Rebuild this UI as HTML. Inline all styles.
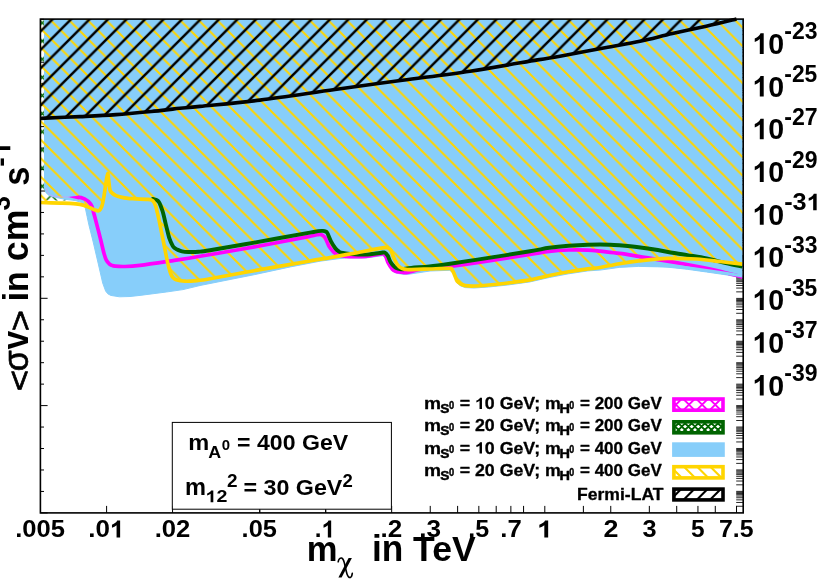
<!DOCTYPE html>
<html><head><meta charset="utf-8"><title>plot</title>
<style>html,body{margin:0;padding:0;background:#fff;}svg{display:block;}text{font-family:"Liberation Sans",sans-serif;font-weight:bold;fill:#000;}.sym{font-family:"Liberation Serif",serif;font-weight:normal;font-style:italic;}.reg{font-family:"Liberation Sans",sans-serif;font-weight:normal;}</style></head><body>
<svg style="will-change:transform" width="830" height="581" viewBox="0 0 830 581">
<rect width="830" height="581" fill="#fff"/>
<defs>
<pattern id="hy" patternUnits="userSpaceOnUse" x="12.0" y="0" width="18.50" height="18.50">
<path d="M-1,-1 L19.50,19.50 M17.50,-1 L38.00,20.50 M-1,17.50 L19.50,38.00" stroke="#FFD500" stroke-width="1.95" stroke-linecap="square"/>
</pattern>
<pattern id="hk" patternUnits="userSpaceOnUse" x="16.35" y="0" width="18.50" height="18.50">
<path d="M-1,1 L1,-1 M-1,19.50 L19.50,-1 M17.50,19.50 L19.50,17.50" stroke="#000" stroke-width="2.5" stroke-linecap="square"/>
</pattern>
<pattern id="hg" patternUnits="userSpaceOnUse" x="33.22" y="13.82" width="18.15" height="18.15">
<path d="M0,0 L18.15,18.15 M18.15,0 L0,18.15" stroke="#006400" stroke-width="1.4"/>
</pattern>
<clipPath id="cp"><rect x="40.4" y="19.1" width="702.2" height="493.8"/></clipPath>
</defs>
<path d="M40.4,512.90 h7.2 M40.4,491.44 h3.6 M40.4,469.98 h3.6 M40.4,448.52 h3.6 M40.4,427.06 h3.6 M40.4,405.60 h7.2 M40.4,384.14 h3.6 M40.4,362.68 h3.6 M40.4,341.22 h3.6 M40.4,319.76 h3.6 M40.4,298.30 h7.2 M40.4,276.84 h3.6 M40.4,255.38 h3.6 M40.4,233.92 h3.6 M40.4,212.46 h3.6 M40.4,191.00 h7.2 M40.4,169.54 h3.6 M40.4,148.08 h3.6 M40.4,126.62 h3.6 M40.4,105.16 h3.6 M40.4,83.70 h7.2 M40.4,62.24 h3.6 M40.4,40.78 h3.6 M40.4,19.32 h3.6" stroke="#000" stroke-width="1" fill="none"/>
<path d="M736.2,19.68 h7.0 M736.2,20.68 h7.0 M736.2,21.78 h7.0 M736.2,22.98 h7.0 M736.2,24.38 h7.0 M736.2,26.08 h7.0 M736.2,28.18 h7.0 M736.2,30.78 h7.0 M736.2,34.58 h7.0 M736.2,41.12 h7.0 M736.2,42.12 h7.0 M736.2,43.22 h7.0 M736.2,44.42 h7.0 M736.2,45.82 h7.0 M736.2,47.52 h7.0 M736.2,49.62 h7.0 M736.2,52.22 h7.0 M736.2,56.02 h7.0 M736.2,62.56 h7.0 M736.2,63.56 h7.0 M736.2,64.66 h7.0 M736.2,65.86 h7.0 M736.2,67.26 h7.0 M736.2,68.96 h7.0 M736.2,71.06 h7.0 M736.2,73.66 h7.0 M736.2,77.46 h7.0 M736.2,84.00 h7.0 M736.2,85.00 h7.0 M736.2,86.10 h7.0 M736.2,87.30 h7.0 M736.2,88.70 h7.0 M736.2,90.40 h7.0 M736.2,92.50 h7.0 M736.2,95.10 h7.0 M736.2,98.90 h7.0 M736.2,105.44 h7.0 M736.2,106.44 h7.0 M736.2,107.54 h7.0 M736.2,108.74 h7.0 M736.2,110.14 h7.0 M736.2,111.84 h7.0 M736.2,113.94 h7.0 M736.2,116.54 h7.0 M736.2,120.34 h7.0 M736.2,126.88 h7.0 M736.2,127.88 h7.0 M736.2,128.98 h7.0 M736.2,130.18 h7.0 M736.2,131.58 h7.0 M736.2,133.28 h7.0 M736.2,135.38 h7.0 M736.2,137.98 h7.0 M736.2,141.78 h7.0 M736.2,148.32 h7.0 M736.2,149.32 h7.0 M736.2,150.42 h7.0 M736.2,151.62 h7.0 M736.2,153.02 h7.0 M736.2,154.72 h7.0 M736.2,156.82 h7.0 M736.2,159.42 h7.0 M736.2,163.22 h7.0 M736.2,169.76 h7.0 M736.2,170.76 h7.0 M736.2,171.86 h7.0 M736.2,173.06 h7.0 M736.2,174.46 h7.0 M736.2,176.16 h7.0 M736.2,178.26 h7.0 M736.2,180.86 h7.0 M736.2,184.66 h7.0 M736.2,191.20 h7.0 M736.2,192.20 h7.0 M736.2,193.30 h7.0 M736.2,194.50 h7.0 M736.2,195.90 h7.0 M736.2,197.60 h7.0 M736.2,199.70 h7.0 M736.2,202.30 h7.0 M736.2,206.10 h7.0 M736.2,212.64 h7.0 M736.2,213.64 h7.0 M736.2,214.74 h7.0 M736.2,215.94 h7.0 M736.2,217.34 h7.0 M736.2,219.04 h7.0 M736.2,221.14 h7.0 M736.2,223.74 h7.0 M736.2,227.54 h7.0 M736.2,234.08 h7.0 M736.2,235.08 h7.0 M736.2,236.18 h7.0 M736.2,237.38 h7.0 M736.2,238.78 h7.0 M736.2,240.48 h7.0 M736.2,242.58 h7.0 M736.2,245.18 h7.0 M736.2,248.98 h7.0 M736.2,255.52 h7.0 M736.2,256.52 h7.0 M736.2,257.62 h7.0 M736.2,258.82 h7.0 M736.2,260.22 h7.0 M736.2,261.92 h7.0 M736.2,264.02 h7.0 M736.2,266.62 h7.0 M736.2,270.42 h7.0 M736.2,276.96 h7.0 M736.2,277.96 h7.0 M736.2,279.06 h7.0 M736.2,280.26 h7.0 M736.2,281.66 h7.0 M736.2,283.36 h7.0 M736.2,285.46 h7.0 M736.2,288.06 h7.0 M736.2,291.86 h7.0 M736.2,298.40 h7.0 M736.2,299.40 h7.0 M736.2,300.50 h7.0 M736.2,301.70 h7.0 M736.2,303.10 h7.0 M736.2,304.80 h7.0 M736.2,306.90 h7.0 M736.2,309.50 h7.0 M736.2,313.30 h7.0 M736.2,319.84 h7.0 M736.2,320.84 h7.0 M736.2,321.94 h7.0 M736.2,323.14 h7.0 M736.2,324.54 h7.0 M736.2,326.24 h7.0 M736.2,328.34 h7.0 M736.2,330.94 h7.0 M736.2,334.74 h7.0 M736.2,341.28 h7.0 M736.2,342.28 h7.0 M736.2,343.38 h7.0 M736.2,344.58 h7.0 M736.2,345.98 h7.0 M736.2,347.68 h7.0 M736.2,349.78 h7.0 M736.2,352.38 h7.0 M736.2,356.18 h7.0 M736.2,362.72 h7.0 M736.2,363.72 h7.0 M736.2,364.82 h7.0 M736.2,366.02 h7.0 M736.2,367.42 h7.0 M736.2,369.12 h7.0 M736.2,371.22 h7.0 M736.2,373.82 h7.0 M736.2,377.62 h7.0 M736.2,384.16 h7.0 M736.2,385.16 h7.0 M736.2,386.26 h7.0 M736.2,387.46 h7.0 M736.2,388.86 h7.0 M736.2,390.56 h7.0 M736.2,392.66 h7.0 M736.2,395.26 h7.0 M736.2,399.06 h7.0 M736.2,405.60 h7.0 M736.2,406.60 h7.0 M736.2,407.70 h7.0 M736.2,408.90 h7.0 M736.2,410.30 h7.0 M736.2,412.00 h7.0 M736.2,414.10 h7.0 M736.2,416.70 h7.0 M736.2,420.50 h7.0 M736.2,427.04 h7.0 M736.2,428.04 h7.0 M736.2,429.14 h7.0 M736.2,430.34 h7.0 M736.2,431.74 h7.0 M736.2,433.44 h7.0 M736.2,435.54 h7.0 M736.2,438.14 h7.0 M736.2,441.94 h7.0 M736.2,448.48 h7.0 M736.2,449.48 h7.0 M736.2,450.58 h7.0 M736.2,451.78 h7.0 M736.2,453.18 h7.0 M736.2,454.88 h7.0 M736.2,456.98 h7.0 M736.2,459.58 h7.0 M736.2,463.38 h7.0 M736.2,469.92 h7.0 M736.2,470.92 h7.0 M736.2,472.02 h7.0 M736.2,473.22 h7.0 M736.2,474.62 h7.0 M736.2,476.32 h7.0 M736.2,478.42 h7.0 M736.2,481.02 h7.0 M736.2,484.82 h7.0 M736.2,491.36 h7.0 M736.2,492.36 h7.0 M736.2,493.46 h7.0 M736.2,494.66 h7.0 M736.2,496.06 h7.0 M736.2,497.76 h7.0 M736.2,499.86 h7.0 M736.2,502.46 h7.0 M736.2,506.26 h7.0" stroke="#000" stroke-width="0.85" fill="none"/>
<path d="M106.60,512.9 v-7 M172.56,512.9 v-7 M259.74,512.9 v-7 M325.70,512.9 v-7 M391.66,512.9 v-7 M430.24,512.9 v-7 M457.61,512.9 v-7 M478.84,512.9 v-7 M496.19,512.9 v-7 M510.86,512.9 v-7 M523.57,512.9 v-7 M544.80,512.9 v-7 M583.38,512.9 v-7 M610.76,512.9 v-7 M649.34,512.9 v-7 M676.71,512.9 v-7 M697.94,512.9 v-7 M715.29,512.9 v-7 M736.53,512.9 v-7" stroke="#000" stroke-width="1" fill="none"/>
<g clip-path="url(#cp)">
<path d="M40.4,19.1 L40.4,200.6 L86.0,200.6 L86.0,19.1 Z" fill="url(#hg)"/>
<path d="M44.5,19.1 L44.5,188.0 L45.8,192.5 L49.0,195.5 L56.0,197.5 L65.0,199.3 L75.0,200.5 L82.0,202.5 L85.3,208.0 L87.1,216.5 L88.9,224.9 L93.2,242.0 L98.3,263.9 L102.7,283.0 L105.6,291.0 L107.8,293.8 L110.7,295.4 L119.5,296.8 L130.0,296.5 L140.0,295.4 L166.4,292.0 L183.0,289.6 L200.0,285.5 L254.2,274.7 L290.4,266.9 L320.0,261.2 L340.0,258.5 L346.4,258.0 L365.7,258.0 L382.5,255.7 L385.5,257.8 L387.8,263.5 L392.4,270.8 L395.0,272.6 L398.7,273.6 L403.0,274.2 L409.0,274.2 L430.0,271.0 L449.3,270.3 L451.8,271.6 L453.8,275.0 L456.6,282.1 L458.5,284.4 L460.6,285.9 L465.4,287.6 L474.1,288.0 L488.6,287.0 L507.8,285.0 L530.0,281.9 L549.3,277.5 L568.6,273.8 L587.8,270.9 L600.0,270.1 L619.3,267.4 L638.6,266.4 L657.8,266.8 L668.0,267.2 L687.3,269.3 L706.6,272.0 L725.8,274.8 L742.2,277.6 L743.2,277.7 L743.2,19.1 Z" fill="#87CEFA" stroke="#87CEFA" stroke-width="1" stroke-linejoin="round"/>
<path d="M40.4,19.1 L40.4,201.2 L47.0,201.2 L50.0,197.7 L80.0,197.7 L84.0,200.5 L85.0,205.7 L90.1,207.8 L95.0,210.0 L98.6,210.8 L100.5,209.0 L102.2,205.0 L104.0,196.0 L105.8,184.0 L107.7,173.4 L109.0,183.0 L110.0,190.0 L112.0,193.0 L116.0,195.6 L122.0,197.4 L128.0,198.3 L136.0,198.8 L146.3,199.3 L150.3,199.6 L153.0,201.0 L155.5,205.5 L157.2,212.0 L158.9,219.3 L162.4,236.5 L165.8,253.7 L168.4,265.7 L171.0,274.3 L173.0,277.5 L176.1,279.7 L184.8,281.2 L196.8,280.6 L210.0,278.7 L254.2,270.7 L308.4,261.2 L330.0,257.6 L357.1,252.7 L384.2,247.7 L388.0,248.0 L390.5,249.8 L392.0,253.0 L393.3,256.7 L396.9,263.9 L399.5,266.8 L402.3,268.4 L406.0,269.4 L411.3,269.7 L429.4,269.0 L449.3,268.4 L451.8,269.6 L453.8,273.0 L456.6,280.1 L458.5,282.4 L460.6,283.9 L465.4,285.6 L474.1,286.0 L488.6,285.0 L507.8,283.0 L530.0,279.9 L549.3,275.5 L568.6,271.8 L587.8,268.9 L600.0,267.5 L619.3,263.7 L638.6,260.9 L667.5,258.4 L696.4,259.0 L720.0,261.5 L742.6,264.2 L743.2,264.2 L743.2,19.1 Z" fill="url(#hy)"/>
<path d="M40.4,19.1 L40.5,118.4 L80.0,116.6 L116.0,114.6 L160.0,110.6 L180.0,108.3 L200.0,106.4 L260.0,100.1 L335.0,89.5 L402.4,80.2 L470.0,71.2 L537.5,59.9 L560.0,56.2 L605.0,47.8 L640.0,41.3 L672.4,33.6 L706.2,26.2 L736.5,19.0 L736.5,19.1 Z" fill="url(#hk)"/>
<path d="M78.0,197.3 C78.5,197.4 79.9,197.3 81.1,197.6 C82.3,197.9 83.8,198.6 85.0,199.2 C86.2,199.8 87.1,200.2 88.3,201.4 C89.5,202.6 91.0,204.4 91.9,206.3 C92.8,208.2 93.1,210.7 93.7,212.9 C94.3,215.1 94.4,215.2 95.5,219.5 C96.6,223.8 99.1,233.3 100.5,239.0 C101.9,244.7 103.1,250.2 104.1,253.7 C105.1,257.2 105.4,258.5 106.3,260.2 C107.2,261.9 108.3,263.0 109.3,263.9 C110.2,264.8 111.0,265.0 112.0,265.4 C113.0,265.8 113.1,265.9 115.1,266.1 C117.1,266.3 119.8,266.6 123.9,266.5 C128.1,266.4 131.6,266.4 140.0,265.4 C148.4,264.4 164.4,261.9 174.4,260.4 C184.4,258.9 186.7,258.6 200.0,256.3 C213.3,254.1 236.1,250.2 254.2,246.9 C272.3,243.6 297.8,238.7 308.4,236.6 C319.0,234.5 315.9,234.9 318.0,234.6 C320.1,234.3 320.2,234.4 321.1,234.6 C322.0,234.8 322.8,235.3 323.5,236.0 C324.2,236.7 324.7,236.8 325.6,238.6 C326.6,240.4 327.9,244.4 329.2,246.7 C330.5,248.9 332.4,250.8 333.7,252.1 C335.0,253.3 335.8,253.6 337.0,254.2 C338.2,254.8 338.8,255.1 341.0,255.5 C343.2,255.9 345.9,256.5 350.0,256.6 C354.1,256.7 360.3,256.8 365.7,256.3 C371.1,255.9 379.2,254.0 382.5,253.9 C385.8,253.8 384.6,254.6 385.5,256.0 C386.4,257.4 386.7,259.9 387.8,262.1 C388.9,264.3 391.2,267.8 392.4,269.3 C393.6,270.8 393.9,270.6 395.0,271.0 C396.1,271.4 397.4,271.8 398.7,272.0 C400.0,272.2 401.5,272.4 403.0,272.5 C404.5,272.6 405.2,272.9 407.7,272.5 C410.2,272.1 414.3,270.6 418.0,269.8 C421.7,269.1 424.7,268.6 430.0,268.0 C435.3,267.4 440.2,267.6 450.0,266.4 C459.8,265.2 475.3,263.0 488.6,261.0 C501.9,259.0 519.9,256.0 530.0,254.4 C540.1,252.8 542.9,252.0 549.3,251.3 C555.7,250.6 562.2,250.2 568.6,250.0 C575.0,249.8 582.6,249.9 587.8,250.1 C593.0,250.3 594.8,250.6 600.0,251.2 C605.2,251.8 612.9,252.6 619.3,253.4 C625.7,254.2 632.2,255.3 638.6,256.3 C645.0,257.3 650.9,258.5 657.8,259.6 C664.7,260.8 670.4,261.4 680.0,263.2 C689.6,265.0 705.3,267.9 715.7,270.2 C726.1,272.5 738.1,276.0 742.6,277.2" fill="none" stroke="#FF00FF" stroke-width="3.7" stroke-linejoin="round"/>
<path d="M68,196.9 L79,195.5 L78.6,199.4 Z" fill="#FF00FF"/>
<path d="M46.3,188 C47,193.5 50,196 56,196.6 L70,197.1" fill="none" stroke="#C9A0F8" stroke-width="0.8"/>
<path d="M640.0,264.9 L657.8,265.3 L668.0,265.7 L687.3,267.8 L706.6,270.5 L725.8,273.3 L742.6,276.1" fill="none" stroke="#87CEFA" stroke-width="3" />
<path d="M151.5,198.9 C151.7,198.9 152.2,198.8 152.9,198.9 C153.7,199.1 155.0,199.3 156.0,199.8 C157.0,200.3 157.8,200.2 158.9,202.0 C160.0,203.8 161.2,207.0 162.4,210.7 C163.6,214.4 164.7,219.8 165.8,224.4 C167.0,229.0 168.2,234.6 169.3,238.2 C170.5,241.8 171.8,244.2 172.7,245.9 C173.6,247.6 174.1,247.6 175.0,248.3 C175.9,249.0 176.7,249.4 177.9,249.9 C179.1,250.4 180.3,251.0 182.0,251.3 C183.7,251.7 185.4,251.9 188.2,252.0 C190.9,252.1 194.9,252.1 198.5,251.8 C202.1,251.5 200.7,251.8 210.0,250.3 C219.3,248.8 237.8,245.5 254.2,242.6 C270.6,239.7 297.8,234.8 308.4,232.9 C319.0,231.0 315.6,231.4 318.0,231.1 C320.4,230.8 321.6,230.8 322.9,230.9 C324.1,231.0 324.8,231.1 325.5,231.5 C326.2,231.9 326.5,231.5 327.4,233.1 C328.3,234.7 329.6,238.7 331.0,241.3 C332.4,243.9 334.2,246.8 335.5,248.5 C336.8,250.2 337.8,250.8 339.0,251.6 C340.2,252.3 341.0,252.6 342.8,253.0 C344.6,253.4 346.3,253.6 350.0,253.9 C353.7,254.2 360.0,254.8 365.0,254.6 C370.0,254.4 376.8,253.4 380.0,253.0 C383.2,252.6 383.2,252.3 384.2,252.4 C385.2,252.5 385.4,252.9 386.0,253.5 C386.6,254.1 387.1,254.4 387.8,255.8 C388.6,257.2 389.4,260.3 390.5,262.1 C391.6,263.9 392.9,265.5 394.2,266.6 C395.4,267.7 396.7,268.2 398.0,268.6 C399.3,269.1 399.8,269.4 402.0,269.3 C404.2,269.2 406.7,268.4 411.3,267.9 C415.9,267.4 422.9,267.1 429.4,266.4 C435.8,265.7 440.1,265.1 450.0,263.7 C459.9,262.3 475.3,260.0 488.6,257.9 C501.9,255.8 519.9,253.0 530.0,251.3 C540.1,249.6 542.9,248.7 549.3,247.8 C555.7,246.9 562.2,246.3 568.6,245.8 C575.0,245.3 582.6,244.9 587.8,244.7 C593.0,244.5 596.3,244.5 600.0,244.5 C603.7,244.5 606.8,244.6 610.0,244.7 C613.2,244.8 614.5,244.9 619.3,245.3 C624.1,245.7 632.2,246.4 638.6,247.2 C645.0,248.0 652.9,249.2 657.8,250.0 C662.7,250.8 663.1,251.2 668.0,252.0 C672.9,252.8 680.9,254.0 687.3,255.1 C693.7,256.2 700.2,257.1 706.6,258.5 C713.0,259.9 719.8,261.8 725.8,263.2 C731.8,264.6 739.8,266.1 742.6,266.7" fill="none" stroke="#006400" stroke-width="3.9" stroke-linejoin="round"/>
<path d="M40.5,202.5 C43.8,202.6 55.1,202.9 60.0,203.1 C64.9,203.2 66.7,203.2 70.0,203.4 C73.3,203.6 77.4,203.9 79.9,204.3 C82.4,204.7 83.3,205.1 85.0,205.7 C86.7,206.3 88.4,207.1 90.1,207.8 C91.8,208.5 93.6,209.5 95.0,210.0 C96.4,210.5 97.7,211.0 98.6,210.8 C99.5,210.6 99.9,210.0 100.5,209.0 C101.1,208.0 101.6,207.2 102.2,205.0 C102.8,202.8 103.4,199.5 104.0,196.0 C104.6,192.5 105.2,187.8 105.8,184.0 C106.4,180.2 107.2,173.6 107.7,173.4 C108.2,173.2 108.6,180.2 109.0,183.0 C109.4,185.8 109.5,188.3 110.0,190.0 C110.5,191.7 111.0,192.1 112.0,193.0 C113.0,193.9 114.3,194.9 116.0,195.6 C117.7,196.3 120.0,196.9 122.0,197.4 C124.0,197.9 125.7,198.1 128.0,198.3 C130.3,198.5 132.9,198.6 136.0,198.8 C139.1,199.0 143.9,199.2 146.3,199.3 C148.7,199.4 149.2,199.3 150.3,199.6 C151.4,199.9 152.1,200.0 153.0,201.0 C153.9,202.0 154.8,203.7 155.5,205.5 C156.2,207.3 156.6,209.7 157.2,212.0 C157.8,214.3 158.0,215.2 158.9,219.3 C159.8,223.4 161.2,230.8 162.4,236.5 C163.6,242.2 164.8,248.8 165.8,253.7 C166.8,258.6 167.5,262.3 168.4,265.7 C169.3,269.1 170.2,272.3 171.0,274.3 C171.8,276.3 172.2,276.6 173.0,277.5 C173.8,278.4 174.1,279.1 176.1,279.7 C178.1,280.3 181.4,281.0 184.8,281.2 C188.2,281.4 192.6,281.0 196.8,280.6 C201.0,280.2 200.4,280.4 210.0,278.7 C219.6,277.0 237.8,273.6 254.2,270.7 C270.6,267.8 295.8,263.4 308.4,261.2 C321.0,259.0 321.9,259.0 330.0,257.6 C338.1,256.2 348.1,254.3 357.1,252.7 C366.1,251.0 379.1,248.5 384.2,247.7 C389.3,246.9 386.9,247.7 388.0,248.0 C389.1,248.3 389.8,249.0 390.5,249.8 C391.2,250.6 391.5,251.8 392.0,253.0 C392.5,254.2 392.5,254.9 393.3,256.7 C394.1,258.5 395.9,262.2 396.9,263.9 C397.9,265.6 398.6,266.1 399.5,266.8 C400.4,267.6 401.2,268.0 402.3,268.4 C403.4,268.8 404.5,269.2 406.0,269.4 C407.5,269.6 407.4,269.8 411.3,269.7 C415.2,269.6 423.1,269.2 429.4,269.0 C435.7,268.8 445.6,268.3 449.3,268.4 C453.0,268.5 451.1,268.8 451.8,269.6 C452.6,270.4 453.0,271.2 453.8,273.0 C454.6,274.8 455.8,278.5 456.6,280.1 C457.4,281.7 457.8,281.8 458.5,282.4 C459.2,283.0 459.5,283.4 460.6,283.9 C461.8,284.4 463.1,285.2 465.4,285.6 C467.6,286.0 470.2,286.1 474.1,286.0 C478.0,285.9 483.0,285.5 488.6,285.0 C494.2,284.5 500.9,283.9 507.8,283.0 C514.7,282.1 523.1,281.1 530.0,279.9 C536.9,278.6 542.9,276.9 549.3,275.5 C555.7,274.1 562.2,272.9 568.6,271.8 C575.0,270.7 582.6,269.6 587.8,268.9 C593.0,268.2 594.8,268.4 600.0,267.5 C605.2,266.6 612.9,264.8 619.3,263.7 C625.7,262.6 630.6,261.8 638.6,260.9 C646.6,260.0 657.9,258.7 667.5,258.4 C677.1,258.1 687.6,258.5 696.4,259.0 C705.1,259.5 712.3,260.6 720.0,261.5 C727.7,262.4 738.8,263.8 742.6,264.2" fill="none" stroke="#FFD500" stroke-width="3.7" stroke-linejoin="round"/>
</g>
<path d="M40.5,118.4 C47.1,118.1 67.4,117.2 80.0,116.6 C92.6,116.0 102.7,115.6 116.0,114.6 C129.3,113.6 149.3,111.6 160.0,110.6 C170.7,109.5 173.3,109.0 180.0,108.3 C186.7,107.6 186.7,107.8 200.0,106.4 C213.3,105.0 237.5,102.9 260.0,100.1 C282.5,97.3 311.3,92.8 335.0,89.5 C358.7,86.2 379.9,83.2 402.4,80.2 C424.9,77.2 447.5,74.6 470.0,71.2 C492.5,67.8 522.5,62.4 537.5,59.9 C552.5,57.4 548.8,58.2 560.0,56.2 C571.2,54.2 591.7,50.3 605.0,47.8 C618.3,45.3 628.8,43.7 640.0,41.3 C651.2,38.9 661.4,36.1 672.4,33.6 C683.4,31.1 695.5,28.6 706.2,26.2 C716.9,23.8 731.5,20.2 736.5,19.0" fill="none" stroke="#000" stroke-width="3.6" stroke-linejoin="round"/>
<rect x="40.4" y="19.1" width="702.8" height="493.8" fill="none" stroke="#000" stroke-width="1.6"/>
<rect x="172.3" y="422.4" width="219.1" height="86.8" fill="#fff" stroke="#000" stroke-width="1"/>
<path d="M259.74,512.9 v-3.2 M325.70,512.9 v-3.2" stroke="#000" stroke-width="1"/>
<text transform="translate(188.27,450.10) scale(1.0316,1)" font-size="22.88" xml:space="preserve">m</text>
<text transform="translate(208.35,457.70) scale(1.0347,1)" font-size="17.31" xml:space="preserve">A</text>
<text transform="translate(221.70,449.56) scale(1.0791,1)" font-size="13.85" xml:space="preserve">0</text>
<text transform="translate(237.12,449.90) scale(1.0410,1)" font-size="22.20" xml:space="preserve">= 400 GeV</text>
<text transform="translate(184.97,495.30) scale(1.0233,1)" font-size="23.07" xml:space="preserve">m</text>
<path transform="translate(205.58,502.36) scale(0.00959,-0.00844)" d="M806,0 L525,0 L525,1014 Q371,876 162,810 L162,1054 Q272,1088 401,1185 Q530,1281 578,1409 L806,1409 Z"/>
<text transform="translate(205.58,502.36) scale(1.1366,1)" font-size="17.29" xml:space="preserve"> 2</text>
<text transform="translate(227.04,487.00) scale(1.0751,1)" font-size="17.63" xml:space="preserve">2</text>
<text transform="translate(243.41,495.10) scale(1.0483,1)" font-size="22.20" xml:space="preserve">= 30 GeV</text>
<text transform="translate(342.45,487.00) scale(1.0514,1)" font-size="17.63" xml:space="preserve">2</text>
<text transform="translate(424.06,409.00) scale(1.1310,1)" font-size="16.93" stroke="#000" stroke-width="0.30" stroke-linejoin="round" xml:space="preserve">m</text>
<path transform="translate(474.97,408.90) scale(0.00868,-0.00796)" d="M806,0 L525,0 L525,1014 Q371,876 162,810 L162,1054 Q272,1088 401,1185 Q530,1281 578,1409 L806,1409 Z"/>
<text transform="translate(459.64,408.90) scale(1.0910,1)" font-size="16.30" stroke="#000" stroke-width="0.30" stroke-linejoin="round" xml:space="preserve">=  0 GeV; m</text>
<text transform="translate(579.98,408.90) scale(1.0440,1)" font-size="16.30" stroke="#000" stroke-width="0.30" stroke-linejoin="round" xml:space="preserve">= 200 GeV</text>
<text transform="translate(440.19,413.17) scale(1.0910,1)" font-size="12.58" stroke="#000" stroke-width="0.45" stroke-linejoin="round" xml:space="preserve">S</text>
<text transform="translate(448.93,408.80) scale(0.9231,1)" font-size="10.04" stroke="#000" stroke-width="0.45" stroke-linejoin="round" xml:space="preserve">0</text>
<text transform="translate(559.62,413.10) scale(1.1566,1)" font-size="12.51" stroke="#000" stroke-width="0.45" stroke-linejoin="round" xml:space="preserve">H</text>
<text transform="translate(569.15,408.80) scale(0.8811,1)" font-size="10.04" stroke="#000" stroke-width="0.45" stroke-linejoin="round" xml:space="preserve">0</text>
<text transform="translate(424.06,431.30) scale(1.1310,1)" font-size="16.93" stroke="#000" stroke-width="0.30" stroke-linejoin="round" xml:space="preserve">m</text>
<text transform="translate(459.64,431.20) scale(1.0910,1)" font-size="16.30" stroke="#000" stroke-width="0.30" stroke-linejoin="round" xml:space="preserve">= 20 GeV; m</text>
<text transform="translate(579.98,431.20) scale(1.0440,1)" font-size="16.30" stroke="#000" stroke-width="0.30" stroke-linejoin="round" xml:space="preserve">= 200 GeV</text>
<text transform="translate(440.19,435.47) scale(1.0910,1)" font-size="12.58" stroke="#000" stroke-width="0.45" stroke-linejoin="round" xml:space="preserve">S</text>
<text transform="translate(448.93,431.10) scale(0.9231,1)" font-size="10.04" stroke="#000" stroke-width="0.45" stroke-linejoin="round" xml:space="preserve">0</text>
<text transform="translate(559.62,435.40) scale(1.1566,1)" font-size="12.51" stroke="#000" stroke-width="0.45" stroke-linejoin="round" xml:space="preserve">H</text>
<text transform="translate(569.15,431.10) scale(0.8811,1)" font-size="10.04" stroke="#000" stroke-width="0.45" stroke-linejoin="round" xml:space="preserve">0</text>
<text transform="translate(424.06,453.60) scale(1.1310,1)" font-size="16.93" stroke="#000" stroke-width="0.30" stroke-linejoin="round" xml:space="preserve">m</text>
<path transform="translate(474.97,453.50) scale(0.00868,-0.00796)" d="M806,0 L525,0 L525,1014 Q371,876 162,810 L162,1054 Q272,1088 401,1185 Q530,1281 578,1409 L806,1409 Z"/>
<text transform="translate(459.64,453.50) scale(1.0910,1)" font-size="16.30" stroke="#000" stroke-width="0.30" stroke-linejoin="round" xml:space="preserve">=  0 GeV; m</text>
<text transform="translate(579.98,453.50) scale(1.0440,1)" font-size="16.30" stroke="#000" stroke-width="0.30" stroke-linejoin="round" xml:space="preserve">= 400 GeV</text>
<text transform="translate(440.19,457.77) scale(1.0910,1)" font-size="12.58" stroke="#000" stroke-width="0.45" stroke-linejoin="round" xml:space="preserve">S</text>
<text transform="translate(448.93,453.40) scale(0.9231,1)" font-size="10.04" stroke="#000" stroke-width="0.45" stroke-linejoin="round" xml:space="preserve">0</text>
<text transform="translate(559.62,457.70) scale(1.1566,1)" font-size="12.51" stroke="#000" stroke-width="0.45" stroke-linejoin="round" xml:space="preserve">H</text>
<text transform="translate(569.15,453.40) scale(0.8811,1)" font-size="10.04" stroke="#000" stroke-width="0.45" stroke-linejoin="round" xml:space="preserve">0</text>
<text transform="translate(424.06,475.90) scale(1.1310,1)" font-size="16.93" stroke="#000" stroke-width="0.30" stroke-linejoin="round" xml:space="preserve">m</text>
<text transform="translate(459.64,475.80) scale(1.0910,1)" font-size="16.30" stroke="#000" stroke-width="0.30" stroke-linejoin="round" xml:space="preserve">= 20 GeV; m</text>
<text transform="translate(579.98,475.80) scale(1.0440,1)" font-size="16.30" stroke="#000" stroke-width="0.30" stroke-linejoin="round" xml:space="preserve">= 400 GeV</text>
<text transform="translate(440.19,480.07) scale(1.0910,1)" font-size="12.58" stroke="#000" stroke-width="0.45" stroke-linejoin="round" xml:space="preserve">S</text>
<text transform="translate(448.93,475.70) scale(0.9231,1)" font-size="10.04" stroke="#000" stroke-width="0.45" stroke-linejoin="round" xml:space="preserve">0</text>
<text transform="translate(559.62,480.00) scale(1.1566,1)" font-size="12.51" stroke="#000" stroke-width="0.45" stroke-linejoin="round" xml:space="preserve">H</text>
<text transform="translate(569.15,475.70) scale(0.8811,1)" font-size="10.04" stroke="#000" stroke-width="0.45" stroke-linejoin="round" xml:space="preserve">0</text>
<text transform="translate(577.01,499.50) scale(1.0985,1)" font-size="16.00" stroke="#000" stroke-width="0.30" stroke-linejoin="round" xml:space="preserve">Fermi-LAT</text>
<clipPath id="cm"><rect x="673.1" y="398.2" width="50.7" height="12.8"/></clipPath>
<g clip-path="url(#cm)">
<path d="M640.35,414.0 L659.15,395.2 M640.25,395.2 L659.05,414.0 M653.45,414.0 L672.25,395.2 M653.35,395.2 L672.15,414.0 M666.55,414.0 L685.35,395.2 M666.45,395.2 L685.25,414.0 M679.65,414.0 L698.45,395.2 M679.55,395.2 L698.35,414.0 M692.75,414.0 L711.55,395.2 M692.65,395.2 L711.45,414.0 M705.85,414.0 L724.65,395.2 M705.75,395.2 L724.55,414.0 M718.95,414.0 L737.75,395.2 M718.85,395.2 L737.65,414.0 M732.05,414.0 L750.85,395.2 M731.95,395.2 L750.75,414.0 M745.15,414.0 L763.95,395.2 M745.05,395.2 L763.85,414.0 M758.25,414.0 L777.05,395.2 M758.15,395.2 L776.95,414.0 M771.35,414.0 L790.15,395.2 M771.25,395.2 L790.05,414.0" stroke="#FF00FF" stroke-width="1.9" fill="none"/>
</g>
<rect x="673.90" y="399.00" width="49.10" height="11.20" fill="none" stroke="#FF00FF" stroke-width="3.6"/>
<clipPath id="cg"><rect x="673.1" y="421.0" width="50.7" height="12.6"/></clipPath>
<g clip-path="url(#cg)">
<path d="M638.90,436.6 L657.50,418.0 M640.30,418.0 L658.90,436.6 M645.48,436.6 L664.08,418.0 M646.88,418.0 L665.48,436.6 M652.06,436.6 L670.66,418.0 M653.46,418.0 L672.06,436.6 M658.64,436.6 L677.24,418.0 M660.04,418.0 L678.64,436.6 M665.22,436.6 L683.82,418.0 M666.62,418.0 L685.22,436.6 M671.80,436.6 L690.40,418.0 M673.20,418.0 L691.80,436.6 M678.38,436.6 L696.98,418.0 M679.78,418.0 L698.38,436.6 M684.96,436.6 L703.56,418.0 M686.36,418.0 L704.96,436.6 M691.54,436.6 L710.14,418.0 M692.94,418.0 L711.54,436.6 M698.12,436.6 L716.72,418.0 M699.52,418.0 L718.12,436.6 M704.70,436.6 L723.30,418.0 M706.10,418.0 L724.70,436.6 M711.28,436.6 L729.88,418.0 M712.68,418.0 L731.28,436.6 M717.86,436.6 L736.46,418.0 M719.26,418.0 L737.86,436.6 M724.44,436.6 L743.04,418.0 M725.84,418.0 L744.44,436.6 M731.02,436.6 L749.62,418.0 M732.42,418.0 L751.02,436.6 M737.60,436.6 L756.20,418.0 M739.00,418.0 L757.60,436.6 M744.18,436.6 L762.78,418.0 M745.58,418.0 L764.18,436.6 M750.76,436.6 L769.36,418.0 M752.16,418.0 L770.76,436.6 M757.34,436.6 L775.94,418.0 M758.74,418.0 L777.34,436.6" stroke="#006400" stroke-width="1.9" fill="none"/>
</g>
<rect x="673.90" y="421.80" width="49.10" height="11.00" fill="none" stroke="#006400" stroke-width="3.6"/>
<rect x="672.1" y="442.3" width="52.7" height="14.6" fill="#87CEFA"/>
<clipPath id="cy"><rect x="673.1" y="465.9" width="50.7" height="12.8"/></clipPath>
<g clip-path="url(#cy)">
<path d="M640.55,462.9 L659.35,481.7 M653.75,462.9 L672.55,481.7 M666.95,462.9 L685.75,481.7 M680.15,462.9 L698.95,481.7 M693.35,462.9 L712.15,481.7 M706.55,462.9 L725.35,481.7 M719.75,462.9 L738.55,481.7 M732.95,462.9 L751.75,481.7 M746.15,462.9 L764.95,481.7" stroke="#FFD500" stroke-width="2.1" fill="none"/>
</g>
<rect x="673.90" y="466.70" width="49.10" height="11.20" fill="none" stroke="#FFD500" stroke-width="3.6"/>
<clipPath id="ck"><rect x="673.1" y="488.3" width="50.7" height="12.4"/></clipPath>
<g clip-path="url(#ck)">
<path d="M640.10,503.7 L658.50,485.3 M653.30,503.7 L671.70,485.3 M666.50,503.7 L684.90,485.3 M679.70,503.7 L698.10,485.3 M692.90,503.7 L711.30,485.3 M706.10,503.7 L724.50,485.3 M719.30,503.7 L737.70,485.3 M732.50,503.7 L750.90,485.3 M745.70,503.7 L764.10,485.3" stroke="#000000" stroke-width="2.1" fill="none"/>
</g>
<rect x="673.90" y="489.10" width="49.10" height="10.80" fill="none" stroke="#000000" stroke-width="3.6"/>
<path transform="translate(752.49,53.90) scale(0.01392,-0.01463)" d="M806,0 L525,0 L525,1014 Q371,876 162,810 L162,1054 Q272,1088 401,1185 Q530,1281 578,1409 L806,1409 Z"/>
<text transform="translate(752.49,53.90) scale(0.9516,1)" font-size="29.96" xml:space="preserve"> 0</text>
<text transform="translate(784.28,39.40) scale(0.9660,1)" font-size="23.80" xml:space="preserve">-23</text>
<path transform="translate(752.49,96.60) scale(0.01392,-0.01463)" d="M806,0 L525,0 L525,1014 Q371,876 162,810 L162,1054 Q272,1088 401,1185 Q530,1281 578,1409 L806,1409 Z"/>
<text transform="translate(752.49,96.60) scale(0.9516,1)" font-size="29.96" xml:space="preserve"> 0</text>
<text transform="translate(784.29,82.16) scale(0.9573,1)" font-size="23.89" xml:space="preserve">-25</text>
<path transform="translate(752.49,139.30) scale(0.01392,-0.01463)" d="M806,0 L525,0 L525,1014 Q371,876 162,810 L162,1054 Q272,1088 401,1185 Q530,1281 578,1409 L806,1409 Z"/>
<text transform="translate(752.49,139.30) scale(0.9516,1)" font-size="29.96" xml:space="preserve"> 0</text>
<text transform="translate(784.28,125.10) scale(0.9542,1)" font-size="24.23" xml:space="preserve">-27</text>
<path transform="translate(752.49,182.00) scale(0.01392,-0.01463)" d="M806,0 L525,0 L525,1014 Q371,876 162,810 L162,1054 Q272,1088 401,1185 Q530,1281 578,1409 L806,1409 Z"/>
<text transform="translate(752.49,182.00) scale(0.9516,1)" font-size="29.96" xml:space="preserve"> 0</text>
<text transform="translate(784.28,167.56) scale(0.9626,1)" font-size="23.89" xml:space="preserve">-29</text>
<path transform="translate(752.49,224.70) scale(0.01392,-0.01463)" d="M806,0 L525,0 L525,1014 Q371,876 162,810 L162,1054 Q272,1088 401,1185 Q530,1281 578,1409 L806,1409 Z"/>
<text transform="translate(752.49,224.70) scale(0.9516,1)" font-size="29.96" xml:space="preserve"> 0</text>
<path transform="translate(806.69,210.20) scale(0.01235,-0.01162)" d="M806,0 L525,0 L525,1014 Q371,876 162,810 L162,1054 Q272,1088 401,1185 Q530,1281 578,1409 L806,1409 Z"/>
<text transform="translate(784.19,210.20) scale(1.0630,1)" font-size="23.80" xml:space="preserve">-3 </text>
<path transform="translate(752.49,267.40) scale(0.01392,-0.01463)" d="M806,0 L525,0 L525,1014 Q371,876 162,810 L162,1054 Q272,1088 401,1185 Q530,1281 578,1409 L806,1409 Z"/>
<text transform="translate(752.49,267.40) scale(0.9516,1)" font-size="29.96" xml:space="preserve"> 0</text>
<text transform="translate(784.28,252.90) scale(0.9660,1)" font-size="23.80" xml:space="preserve">-33</text>
<path transform="translate(752.49,310.10) scale(0.01392,-0.01463)" d="M806,0 L525,0 L525,1014 Q371,876 162,810 L162,1054 Q272,1088 401,1185 Q530,1281 578,1409 L806,1409 Z"/>
<text transform="translate(752.49,310.10) scale(0.9516,1)" font-size="29.96" xml:space="preserve"> 0</text>
<text transform="translate(784.29,295.60) scale(0.9607,1)" font-size="23.80" xml:space="preserve">-35</text>
<path transform="translate(752.49,352.80) scale(0.01392,-0.01463)" d="M806,0 L525,0 L525,1014 Q371,876 162,810 L162,1054 Q272,1088 401,1185 Q530,1281 578,1409 L806,1409 Z"/>
<text transform="translate(752.49,352.80) scale(0.9516,1)" font-size="29.96" xml:space="preserve"> 0</text>
<text transform="translate(784.28,338.30) scale(0.9713,1)" font-size="23.80" xml:space="preserve">-37</text>
<path transform="translate(752.49,395.50) scale(0.01392,-0.01463)" d="M806,0 L525,0 L525,1014 Q371,876 162,810 L162,1054 Q272,1088 401,1185 Q530,1281 578,1409 L806,1409 Z"/>
<text transform="translate(752.49,395.50) scale(0.9516,1)" font-size="29.96" xml:space="preserve"> 0</text>
<text transform="translate(784.28,381.00) scale(0.9660,1)" font-size="23.80" xml:space="preserve">-39</text>
<text transform="translate(15.17,537.40) scale(1.0351,1)" font-size="24.70" xml:space="preserve">.005</text>
<path transform="translate(109.91,537.40) scale(0.01268,-0.01206)" d="M806,0 L525,0 L525,1014 Q371,876 162,810 L162,1054 Q272,1088 401,1185 Q530,1281 578,1409 L806,1409 Z"/>
<text transform="translate(88.25,537.40) scale(1.0518,1)" font-size="24.70" xml:space="preserve">.0 </text>
<text transform="translate(154.67,537.40) scale(1.0386,1)" font-size="24.70" xml:space="preserve">.02</text>
<text transform="translate(241.59,537.40) scale(1.0286,1)" font-size="24.70" xml:space="preserve">.05</text>
<path transform="translate(321.61,537.40) scale(0.01186,-0.01206)" d="M806,0 L525,0 L525,1014 Q371,876 162,810 L162,1054 Q272,1088 401,1185 Q530,1281 578,1409 L806,1409 Z"/>
<text transform="translate(314.86,537.40) scale(0.9837,1)" font-size="24.70" xml:space="preserve">. </text>
<text transform="translate(380.54,537.40) scale(1.0554,1)" font-size="24.70" xml:space="preserve">.2</text>
<text transform="translate(419.33,537.40) scale(1.0593,1)" font-size="24.70" xml:space="preserve">.3</text>
<text transform="translate(468.31,537.40) scale(1.0156,1)" font-size="24.70" xml:space="preserve">.5</text>
<text transform="translate(500.26,537.40) scale(1.0423,1)" font-size="24.70" xml:space="preserve">.7</text>
<path transform="translate(537.13,537.40) scale(0.01369,-0.01206)" d="M806,0 L525,0 L525,1014 Q371,876 162,810 L162,1054 Q272,1088 401,1185 Q530,1281 578,1409 L806,1409 Z"/>
<text transform="translate(603.56,537.40) scale(1.0881,1)" font-size="24.70" xml:space="preserve">2</text>
<text transform="translate(642.43,537.40) scale(1.0254,1)" font-size="24.70" xml:space="preserve">3</text>
<text transform="translate(691.01,537.40) scale(0.9897,1)" font-size="24.70" xml:space="preserve">5</text>
<text transform="translate(718.94,537.40) scale(1.0060,1)" font-size="24.70" xml:space="preserve">7.5</text>
<text transform="translate(306.75,561.10) scale(0.9617,1)" font-size="36.00" xml:space="preserve">m</text>
<path d="M348.6,557.9 L351.9,557.9 L341.6,577.4 L338.4,577.4 Z" fill="#000"/>
<path d="M338.2,561.8 C338.6,559.2 340.2,557.7 341.6,558.0 C343.0,558.4 343.6,560.0 344.2,562.4 C345.0,565.6 346.0,570.6 347.0,574.0 C347.8,576.6 349.2,577.8 350.4,577.4 C351.5,577.0 352.0,575.6 352.3,573.4" fill="none" stroke="#000" stroke-width="1.6" stroke-linecap="round"/>
<text transform="translate(372.03,561.10) scale(0.9791,1)" font-size="36.00" xml:space="preserve">in</text>
<text transform="translate(413.06,561.00) scale(0.9882,1)" font-size="36.00" xml:space="preserve">TeV</text>
<g transform="translate(28.1,390.6) rotate(-90)">
<text transform="translate(-0.72,2.35) scale(1.1649,1)" font-size="31.33" stroke="#000" stroke-width="0.70" stroke-linejoin="round" style="font-family:'Liberation Sans',sans-serif;font-weight:normal;font-style:normal" xml:space="preserve">&lt;</text>
<text transform="translate(19.26,0.16) scale(0.9858,1)" font-size="34.42" stroke="#000" stroke-width="0.70" stroke-linejoin="round" style="font-family:'Liberation Sans',sans-serif;font-weight:normal;font-style:normal" xml:space="preserve">σ</text>
<text transform="translate(59.39,2.41) scale(1.1298,1)" font-size="32.12" stroke="#000" stroke-width="0.70" stroke-linejoin="round" style="font-family:'Liberation Sans',sans-serif;font-weight:normal;font-style:normal" xml:space="preserve">&gt;</text>
<text transform="translate(41.13,0.00) scale(0.9231,1)" font-size="36.21" xml:space="preserve">v</text>
<text transform="translate(89.33,0.00) scale(0.9646,1)" font-size="35.03" xml:space="preserve">in</text>
<text transform="translate(129.47,-0.07) scale(0.9739,1)" font-size="36.71" xml:space="preserve">cm</text>
<text transform="translate(180.22,-17.70) scale(0.9261,1)" font-size="28.00" xml:space="preserve">3</text>
<text transform="translate(204.90,0.42) scale(0.9136,1)" font-size="37.63" xml:space="preserve">s</text>
<text transform="translate(223.86,-17.70) scale(1.0184,1)" font-size="28.00" xml:space="preserve">-</text>
<path transform="translate(233.33,-17.80) scale(0.01369,-0.01367)" d="M806,0 L525,0 L525,1014 Q371,876 162,810 L162,1054 Q272,1088 401,1185 Q530,1281 578,1409 L806,1409 Z"/>
</g>
</svg>
</body></html>
